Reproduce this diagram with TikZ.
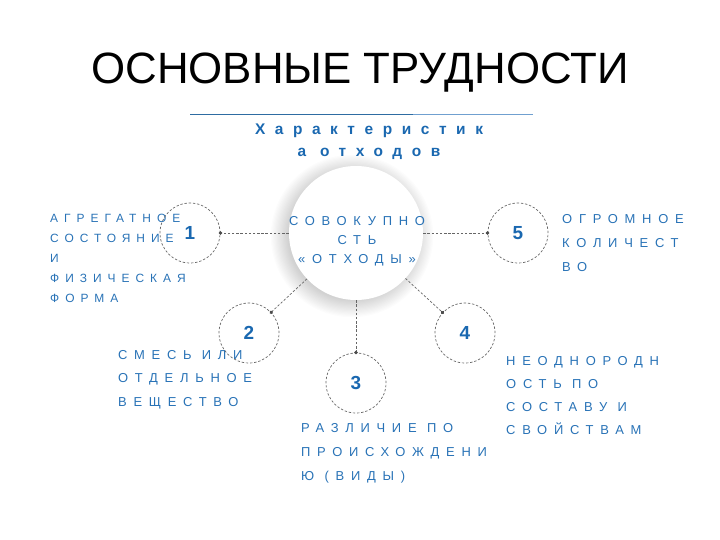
\documentclass[tikz,border=0pt]{standalone}
\usepackage{fontspec}
\setmainfont{Liberation Sans}
\newfontfamily\spacedfont[LetterSpace=52]{Liberation Sans}
\newfontfamily\narrowfont[LetterSpace=50]{Liberation Sans}
\newfontfamily\headfont[LetterSpace=62]{Liberation Sans}
\usetikzlibrary{positioning,arrows.meta}
\definecolor{txtblue}{RGB}{40,114,182}
\definecolor{numblue}{RGB}{26,104,176}
\definecolor{ruledark}{RGB}{46,108,162}
\definecolor{rulelight}{RGB}{112,160,208}

\begin{document}
\begin{tikzpicture}[
    x=1bp, y=-1bp,
    numcirc/.style={
      circle,
      draw=black!60,
      dash pattern=on 2.4pt off 1.8pt,
      line width=0.7pt,
      minimum size=60bp,
      inner sep=0pt,
      text=numblue,
      font=\bfseries\fontsize{19}{19}\selectfont
    },
    bigcirc/.style={
      circle,
      fill=white,
      minimum size=134bp,
      inner sep=0pt
    },
    lbl/.style={
      align=left,
      inner sep=0pt,
      anchor=north west,
      text=txtblue,
      font=\spacedfont\fontsize{13}{23.5}\selectfont
    },
    link/.style={
      draw=black!60,
      dash pattern=on 2.4pt off 1.8pt,
      line width=0.7pt,
      shorten >=-1.7pt
    },
    >={Circle[length=3.6pt,color=black!70]}
    ]
    \useasboundingbox (0,0) rectangle (720,540);

    % title and rule
    \node[anchor=base,font=\fontsize{44}{44}\selectfont] (title) at (360,84) {ОСНОВНЫЕ ТРУДНОСТИ};
    \coordinate (ruleA) at (190,114);
    \coordinate (ruleM) at (413,114);
    \coordinate (ruleB) at (533,114);
    \draw[ruledark,line width=0.7pt] (ruleA) -- (ruleM);
    \draw[rulelight,line width=0.7pt] (ruleM) -- (ruleB);
    \node[align=center,inner sep=0pt,text=numblue,
      font=\headfont\bfseries\fontsize{15.5}{22}\selectfont] (head) at (369,142)
      {Характеристик\\а отходов};

    % central circle with soft shadow
    \coordinate (cc) at (356,233);
    \foreach \r in {1,...,16}
      \fill[black,opacity=0.011] (cc) ++(-4,3) circle[radius=62+1.2*\r];
    \node[bigcirc] (waste) at (cc) {};
    \node[align=center,inner sep=0pt,text=txtblue,
      font=\spacedfont\fontsize{13}{19}\selectfont] (wastetxt) at (357,241)
      {СОВОКУПНО\\СТЬ\\«ОТХОДЫ»};

    % labels
    \node[lbl,font=\narrowfont\fontsize{12}{20.2}\selectfont] (t1) at (50,213.5)
      {АГРЕГАТНОЕ\\СОСТОЯНИЕ\\И\\ФИЗИЧЕСКАЯ\\ФОРМА};
    \node[lbl,font=\spacedfont\fontsize{13}{24}\selectfont] (t5) at (562,214.2)
      {ОГРОМНОЕ\\КОЛИЧЕСТ\\ВО};
    \node[lbl] (t2) at (118,350.2) {СМЕСЬ ИЛИ\\ОТДЕЛЬНОЕ\\ВЕЩЕСТВО};
    \node[lbl,font=\spacedfont\fontsize{13}{23}\selectfont] (t4) at (506,356.2)
      {НЕОДНОРОДН\\ОСТЬ ПО\\СОСТАВУ И\\СВОЙСТВАМ};
    \node[lbl,font=\spacedfont\fontsize{13}{24}\selectfont] (t3) at (301,423.2)
      {РАЗЛИЧИЕ ПО\\ПРОИСХОЖДЕНИ\\Ю (ВИДЫ)};

    % numbered circles
    \node[numcirc] (n1) at (190,233) {1};
    \node[numcirc] (n2) at (249,333) {2};
    \node[numcirc] (n3) at (356,383) {3};
    \node[numcirc] (n4) at (465,333) {4};
    \node[numcirc] (n5) at (518,233) {5};

    \path[link,->] (waste) edge (n1)
      edge (n2)
      edge (n3)
      edge (n4)
      edge (n5);

    \end{tikzpicture}
\end{document}
